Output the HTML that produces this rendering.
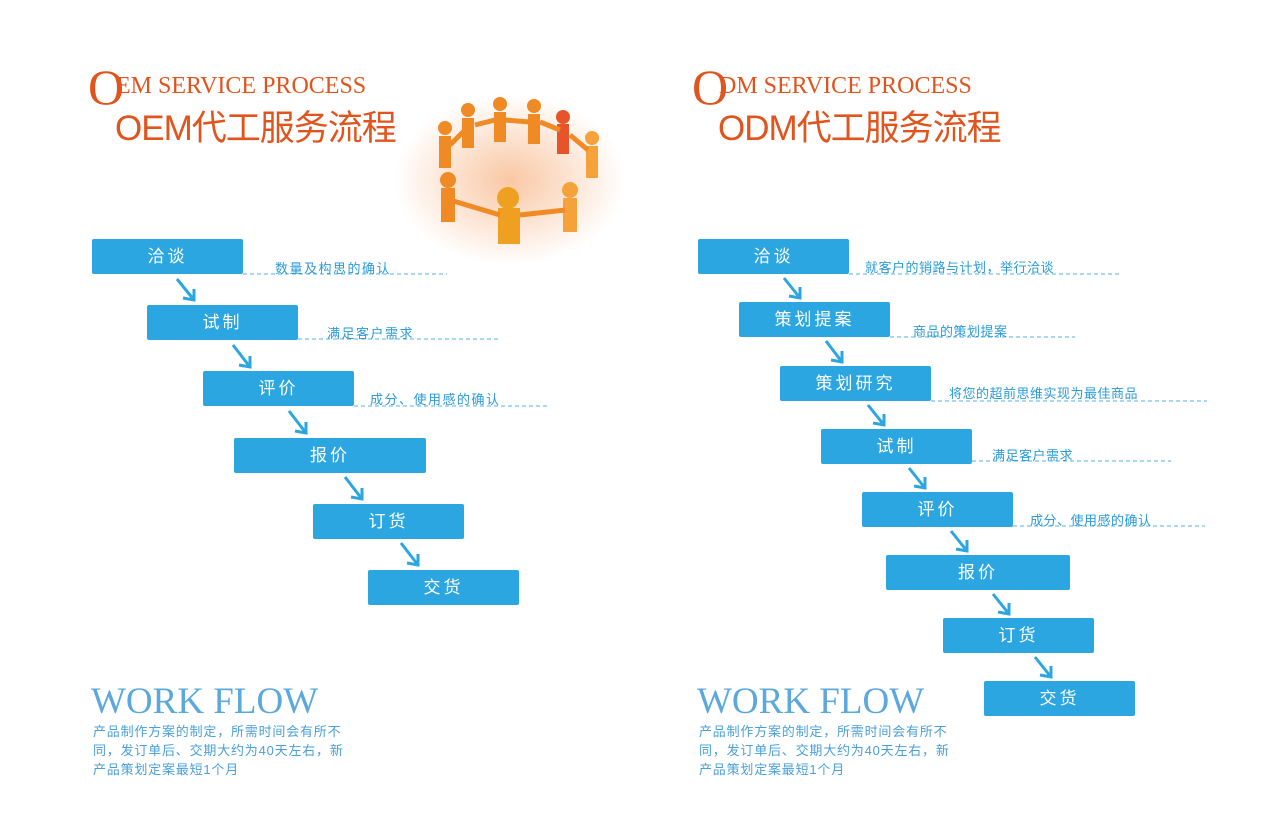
<!DOCTYPE html>
<html><head><meta charset="utf-8"><style>
*{margin:0;padding:0}
body{width:1282px;height:831px;background:#fff;position:relative;overflow:hidden;font-family:"Liberation Sans","Noto Sans CJK SC",sans-serif}
.b{position:absolute;background:#2ca6e0;color:#fff;font-size:17px;letter-spacing:3px;text-align:center;line-height:35px;height:35px;border-radius:2px}
.t{position:absolute;color:#2a9ad8;font-size:13px;letter-spacing:1.5px;white-space:nowrap}
.O{position:absolute;font-family:"Liberation Serif",serif;color:#e0541e;font-size:50px;line-height:50px}
.s{position:absolute;font-family:"Liberation Serif",serif;color:#e0541e;font-size:24px;white-space:nowrap}
.h{position:absolute;color:#e0541e;font-size:35px;white-space:nowrap;letter-spacing:-1px}
.w{position:absolute;font-family:"Liberation Serif",serif;color:#5aa8dc;font-size:37px;white-space:nowrap}
.p{position:absolute;color:#4a9fd8;font-size:13px;line-height:19px;letter-spacing:0.8px;white-space:nowrap}
</style></head><body>
<svg width="1282" height="831" style="position:absolute;left:0;top:0">
<defs><radialGradient id="g" cx="0.5" cy="0.5" r="0.5"><stop offset="0" stop-color="#f9c8a4"/><stop offset="0.6" stop-color="#fde8da"/><stop offset="1" stop-color="#fff"/></radialGradient></defs>
<ellipse cx="510" cy="180" rx="115" ry="85" fill="url(#g)"/>
<g fill="#f08a24">
<circle cx="500" cy="104" r="7"/><circle cx="534" cy="106" r="7"/><circle cx="563" cy="117" r="7" fill="#e8542a"/><circle cx="468" cy="110" r="7"/><circle cx="445" cy="128" r="7"/><circle cx="592" cy="138" r="7" fill="#f5a23a"/><circle cx="448" cy="180" r="8"/><circle cx="508" cy="198" r="11" fill="#f0a020"/><circle cx="570" cy="190" r="8" fill="#f5a23a"/>
<rect x="494" y="112" width="12" height="30"/><rect x="528" y="114" width="12" height="30"/><rect x="557" y="124" width="12" height="30" fill="#e8542a"/><rect x="462" y="118" width="12" height="30"/><rect x="439" y="136" width="12" height="32"/><rect x="586" y="146" width="12" height="32" fill="#f5a23a"/><rect x="441" y="188" width="14" height="34"/><rect x="498" y="208" width="22" height="36" fill="#f0a020"/><rect x="563" y="198" width="14" height="34" fill="#f5a23a"/>
<path d="M450 200 L500 215 M520 215 L565 210 M450 145 L470 125 M475 125 L495 120 M505 120 L530 122 M540 122 L560 130 M570 135 L588 150" stroke="#f08a24" stroke-width="5" fill="none"/>
</g>
<g stroke="#55b0e4" stroke-width="1" stroke-dasharray="4,3">
<line x1="243" y1="274" x2="447" y2="274"/><line x1="298" y1="339" x2="498" y2="339"/><line x1="354" y1="406" x2="548" y2="406"/>
<line x1="849" y1="274" x2="1122" y2="274"/><line x1="890" y1="337" x2="1075" y2="337"/><line x1="931" y1="401" x2="1207" y2="401"/><line x1="972" y1="461" x2="1171" y2="461"/><line x1="1013" y1="526" x2="1205" y2="526"/>
</g>
<g stroke="#2ca6e0" stroke-width="3" fill="none">
<path d="M177 279L194 300M183 298L194 300L194 289"/>
<path d="M233 345L250 367M239 365L250 367L250 356"/>
<path d="M289 411L306 433M295 431L306 433L306 422"/>
<path d="M345 477L362 499M351 497L362 499L362 488"/>
<path d="M401 543L418 565M407 563L418 565L418 554"/>
<path d="M784 278L800 298M789 296L800 298L800 287"/>
<path d="M826 341L842 362M831 360L842 362L842 351"/>
<path d="M868 405L884 425M873 423L884 425L884 414"/>
<path d="M909 468L925 488M914 486L925 488L925 477"/>
<path d="M951 531L967 551M956 549L967 551L967 540"/>
<path d="M993 594L1009 614M998 612L1009 614L1009 603"/>
<path d="M1035 657L1051 677M1040 675L1051 677L1051 666"/>
</g>
</svg>
<div class="O" style="left:88px;top:62px">O</div><div class="s" style="left:116px;top:73px">EM SERVICE PROCESS</div>
<div class="h" style="left:115px;top:100px">OEM代工服务流程</div>
<div class="O" style="left:692px;top:62px">O</div><div class="s" style="left:719px;top:73px">DM SERVICE PROCESS</div>
<div class="h" style="left:718px;top:100px">ODM代工服务流程</div>

<div class="b" style="left:92px;top:239px;width:151px">洽谈</div>
<div class="b" style="left:147px;top:305px;width:151px">试制</div>
<div class="b" style="left:203px;top:371px;width:151px">评价</div>
<div class="b" style="left:234px;top:438px;width:192px">报价</div>
<div class="b" style="left:313px;top:504px;width:151px">订货</div>
<div class="b" style="left:368px;top:570px;width:151px">交货</div>
<div class="t" style="left:275px;top:258px">数量及构思的确认</div>
<div class="t" style="left:327px;top:323px">满足客户需求</div>
<div class="t" style="left:370px;top:389px">成分、使用感的确认</div>

<div class="b" style="left:698px;top:239px;width:151px">洽谈</div>
<div class="b" style="left:739px;top:302px;width:151px">策划提案</div>
<div class="b" style="left:780px;top:366px;width:151px">策划研究</div>
<div class="b" style="left:821px;top:429px;width:151px">试制</div>
<div class="b" style="left:862px;top:492px;width:151px">评价</div>
<div class="b" style="left:886px;top:555px;width:184px">报价</div>
<div class="b" style="left:943px;top:618px;width:151px">订货</div>
<div class="b" style="left:984px;top:681px;width:151px">交货</div>
<div class="t" style="left:865px;top:257px;letter-spacing:0.5px">就客户的销路与计划，举行洽谈</div>
<div class="t" style="left:913px;top:321px;letter-spacing:0.5px">商品的策划提案</div>
<div class="t" style="left:949px;top:383px;letter-spacing:0.5px">将您的超前思维实现为最佳商品</div>
<div class="t" style="left:992px;top:445px;letter-spacing:0.5px">满足客户需求</div>
<div class="t" style="left:1030px;top:510px;letter-spacing:0.5px">成分、使用感的确认</div>

<div class="w" style="left:91px;top:680px">WORK FLOW</div>
<div class="p" style="left:93px;top:722px">产品制作方案的制定，所需时间会有所不<br>同，发订单后、交期大约为40天左右，新<br>产品策划定案最短1个月</div>
<div class="w" style="left:697px;top:680px">WORK FLOW</div>
<div class="p" style="left:699px;top:722px">产品制作方案的制定，所需时间会有所不<br>同，发订单后、交期大约为40天左右，新<br>产品策划定案最短1个月</div>
</body></html>
